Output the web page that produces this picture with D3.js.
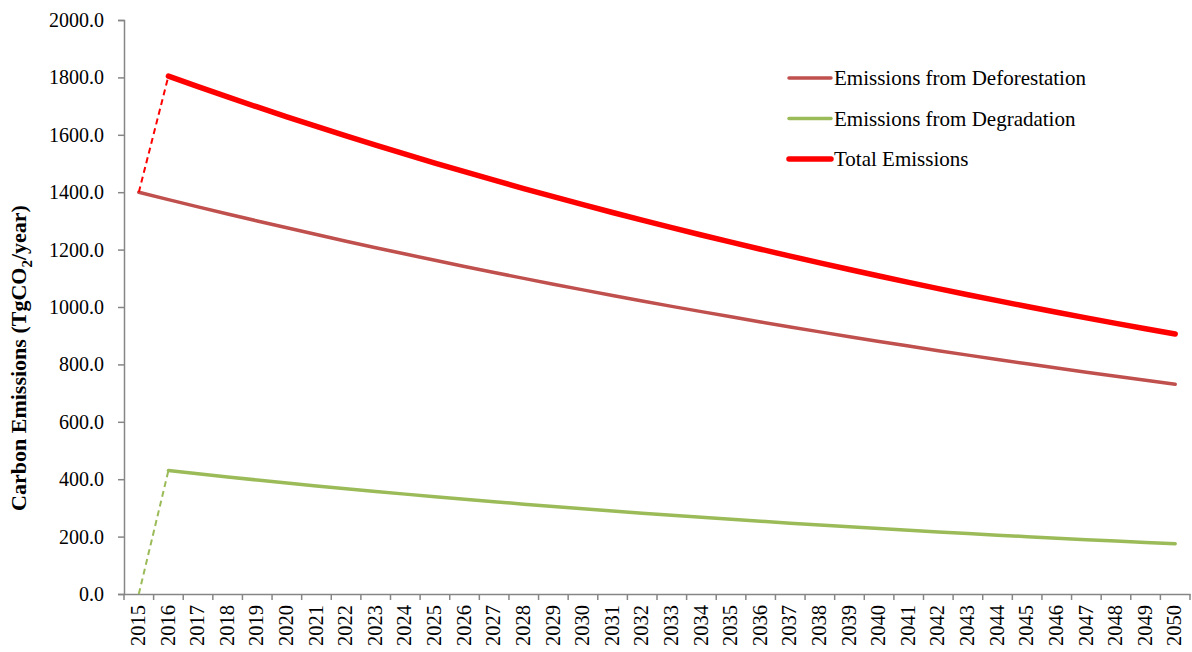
<!DOCTYPE html>
<html>
<head>
<meta charset="utf-8">
<script src="https://cdn.jsdelivr.net/npm/d3@7"></script>
<style>
  html, body { margin: 0; padding: 0; background: #fff; }
  svg { display: block; }
  text { font-family: "Liberation Serif", "Times New Roman", serif; fill: #000; }
</style>
</head>
<body>
<svg id="chart" width="1192" height="652"></svg>
<script>
const years = ["2015","2016","2017","2018","2019","2020","2021","2022","2023","2024","2025","2026","2027","2028","2029","2030","2031","2032","2033","2034","2035","2036","2037","2038","2039","2040","2041","2042","2043","2044","2045","2046","2047","2048","2049","2050"];

const deforestation = [1400.0,1374.2,1348.9,1324.1,1299.8,1275.9,1252.4,1229.3,1206.7,1184.5,1162.7,1141.3,1120.3,1099.7,1079.5,1059.6,1040.1,1021.0,1002.2,983.8,965.7,947.9,930.5,913.3,896.5,880.0,863.8,847.9,832.3,817.0,802.0,787.3,772.8,758.5,744.6,730.9];

const degradation = [0.0,430.0,418.8,407.9,397.2,386.8,376.7,366.9,357.3,348.0,338.9,330.1,321.5,313.1,304.9,296.9,289.2,281.6,274.3,267.1,260.2,253.4,246.8,240.3,234.1,227.9,222.0,216.2,210.6,205.1,199.7,194.5,189.4,184.5,179.7,175.0];

const total = [1400.0,1804.2,1767.7,1732.0,1697.0,1662.7,1629.1,1596.2,1564.0,1532.5,1501.6,1471.4,1441.8,1412.8,1384.4,1356.5,1329.3,1302.6,1276.5,1250.9,1225.9,1201.3,1177.3,1153.6,1130.6,1107.9,1085.8,1064.1,1042.9,1022.1,1001.7,981.8,962.2,943.0,924.3,905.9];

const yTicks = [0,200,400,600,800,1000,1200,1400,1600,1800,2000];

const seriesNames = ["Emissions from Deforestation","Emissions from Degradation","Total Emissions"];
const seriesColors = ["#C0504D","#9BBB59","#FF0000"];
const seriesWidths = [3.5,3.5,5.5];

const svg = d3.select("#chart");
const margin = {left:124, right:2, top:20, bottom:58};
const W = 1192, H = 652;
const FONT = "'Liberation Serif', 'Times New Roman', serif";

const x = d3.scaleBand().domain(years).range([margin.left, W - margin.right]).padding(0);
const y = d3.scaleLinear().domain([0,2000]).range([H - margin.bottom, margin.top]);
const cx = d => x(d) + x.bandwidth()/2;

// Axes
const yAxis = d3.axisLeft(y).tickValues(yTicks).tickFormat(d3.format(".1f")).tickSize(6).tickPadding(14);
const gy = svg.append("g").attr("transform", `translate(${margin.left},0)`).call(yAxis);
gy.attr("font-family", null);
gy.select(".domain").attr("stroke","#868686").attr("stroke-width",1.5);
gy.selectAll(".tick line").attr("stroke","#868686").attr("stroke-width",1.5);
gy.selectAll(".tick text").style("font-size","20px").style("font-family",FONT);

const xAxis = d3.axisBottom(x).tickSize(0).tickPadding(0);
const gx = svg.append("g").attr("transform", `translate(0,${y(0)})`).call(xAxis);
gx.attr("font-family", null);
gx.select(".domain").attr("stroke","#868686").attr("stroke-width",1.5);
gx.selectAll(".tick text")
  .style("font-size","20.5px").style("font-family",FONT)
  .attr("transform", "rotate(-90)")
  .attr("x", -11).attr("y", -1).attr("dy","0.35em")
  .attr("text-anchor","end");
// band boundary tick marks
const boundaries = years.map(d => x(d)).concat([x(years[years.length-1]) + x.bandwidth()]);
svg.append("g").selectAll("line").data(boundaries).join("line")
  .attr("x1", d => d).attr("x2", d => d)
  .attr("y1", y(0)).attr("y2", y(0) + 6)
  .attr("stroke","#868686").attr("stroke-width",1.5);

// Y title
svg.append("text")
  .attr("transform", `translate(26,358) rotate(-90)`)
  .attr("text-anchor","middle")
  .style("font-size","22px").style("font-weight","bold").style("font-family",FONT)
  .call(t => {
    t.append("tspan").text("Carbon Emissions (TgCO");
    t.append("tspan").text("2").attr("dy","6").style("font-size","15px");
    t.append("tspan").text("/year)").attr("dy","-6");
  });

const line = d3.line().x(d => cx(d.year)).y(d => y(d.v));
const toPts = arr => arr.map((v,i) => ({year: years[i], v}));

const datasets = [deforestation, degradation, total];
// Deforestation: fully solid
svg.append("path").datum(toPts(deforestation))
  .attr("d", line).attr("fill","none")
  .attr("stroke", seriesColors[0]).attr("stroke-width", seriesWidths[0])
  .attr("stroke-linecap","round").attr("stroke-linejoin","round");

// Degradation & total: dashed first segment, solid rest
[1,2].forEach(k => {
  const pts = toPts(datasets[k]);
  svg.append("path").datum(pts.slice(0,2))
    .attr("d", line).attr("fill","none")
    .attr("stroke", seriesColors[k]).attr("stroke-width", 2)
    .attr("stroke-dasharray","6,4");
  svg.append("path").datum(pts.slice(1))
    .attr("d", line).attr("fill","none")
    .attr("stroke", seriesColors[k]).attr("stroke-width", seriesWidths[k])
    .attr("stroke-linecap","round").attr("stroke-linejoin","round");
});

// Legend
const lg = svg.append("g").attr("transform","translate(789,78)");
seriesNames.forEach((name,i) => {
  const g = lg.append("g").attr("transform", `translate(0,${i*40.5})`);
  g.append("line").attr("x1",0).attr("x2",42).attr("y1",0).attr("y2",0)
    .attr("stroke", seriesColors[i]).attr("stroke-width", seriesWidths[i]).attr("stroke-linecap","round");
  g.append("text").attr("x",45).attr("y",0).attr("dy","0.35em")
    .style("font-size","21px").style("font-family",FONT).text(name);
});
</script>
</body>
</html>
